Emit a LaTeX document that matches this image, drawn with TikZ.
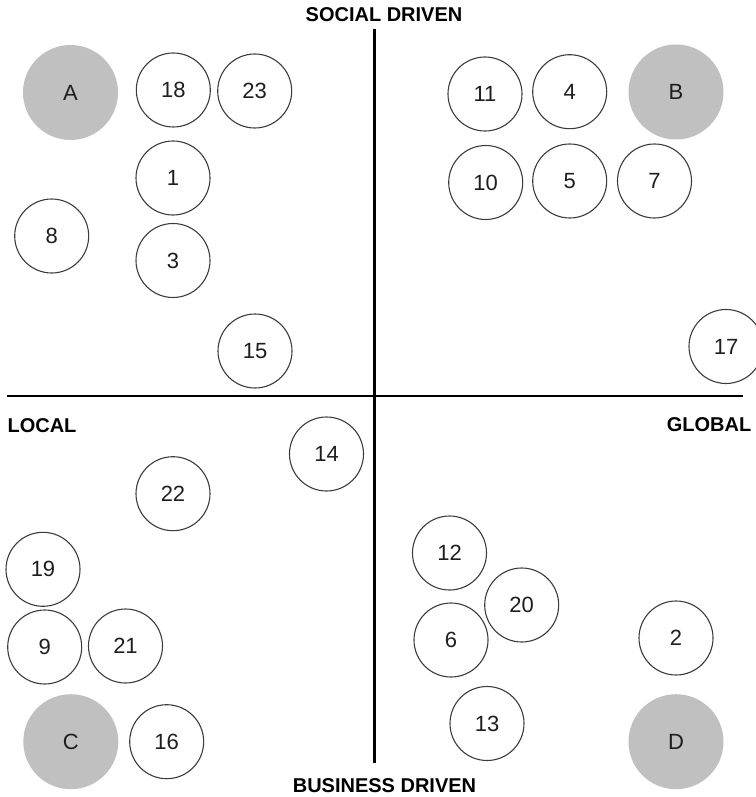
\documentclass[tikz,border=0pt]{standalone}
\usepackage{fontspec}
\setmainfont{Liberation Sans}
\definecolor{greyfill}{RGB}{192,192,192}
\definecolor{ringcol}{RGB}{60,60,60}
\definecolor{txtcol}{RGB}{30,30,30}
\begin{document}
\begin{tikzpicture}[x=1pt,y=-1pt,
  item/.style={circle,draw=ringcol,line width=1.1pt,fill=white,minimum size=74pt,inner sep=0pt,
    text=txtcol,font=\fontsize{22}{24}\selectfont},
  anchorcircle/.style={circle,fill=greyfill,minimum size=95pt,inner sep=0pt,
    text=txtcol,font=\fontsize{22}{24}\selectfont},
  axislabel/.style={anchor=base,inner sep=0pt,font=\fontsize{20}{22}\selectfont\bfseries,text=black},
  axisline/.style={line width=2.6pt,black}]
\useasboundingbox (0,0) rectangle (755,797);
% axes
\coordinate (vtop) at (374.5,29);
\coordinate (vbot) at (374.5,763);
\coordinate (hleft) at (7,396);
\coordinate (hright) at (743,396);
\draw[axisline] (vtop) -- (vbot);
\draw[axisline] (hleft) -- (hright);
% axis labels
\node[axislabel] (social) at (384,22) {SOCIAL DRIVEN};
\node[axislabel] (business) at (384.5,792) {BUSINESS DRIVEN};
\node[axislabel] (local) at (42,432) {LOCAL};
\node[axislabel] (global) at (709,431) {GLOBAL};
% anchor circles
\node[anchorcircle] (A) at (70.5,92.5) {A};
\node[anchorcircle] (B) at (676,92) {B};
\node[anchorcircle] (C) at (70.8,741.7) {C};
\node[anchorcircle] (D) at (676,741.7) {D};
% top-left
\node[item] (n18) at (173.3,90) {18};
\node[item] (n23) at (254.7,91) {23};
\node[item] (n1) at (173,178) {1};
\node[item] (n8) at (51.7,236) {8};
\node[item] (n3) at (173,260.5) {3};
\node[item] (n15) at (255,351) {15};
% top-right
\node[item] (n11) at (485,94) {11};
\node[item] (n4) at (569.7,91.7) {4};
\node[item] (n10) at (485.7,182.5) {10};
\node[item] (n5) at (569.7,181) {5};
\node[item] (n7) at (654.5,181) {7};
\node[item] (n17) at (726,346.5) {17};
% bottom-left
\node[item] (n14) at (326.5,454) {14};
\node[item] (n22) at (173,493.7) {22};
\node[item] (n19) at (43,569.3) {19};
\node[item] (n9) at (44.7,647) {9};
\node[item] (n21) at (125.5,646) {21};
\node[item] (n16) at (166.7,741.7) {16};
% bottom-right
\node[item] (n12) at (449.5,553) {12};
\node[item] (n20) at (521.7,605) {20};
\node[item] (n6) at (451,640) {6};
\node[item] (n2) at (676,638) {2};
\node[item] (n13) at (487,723.5) {13};
\end{tikzpicture}
\end{document}
